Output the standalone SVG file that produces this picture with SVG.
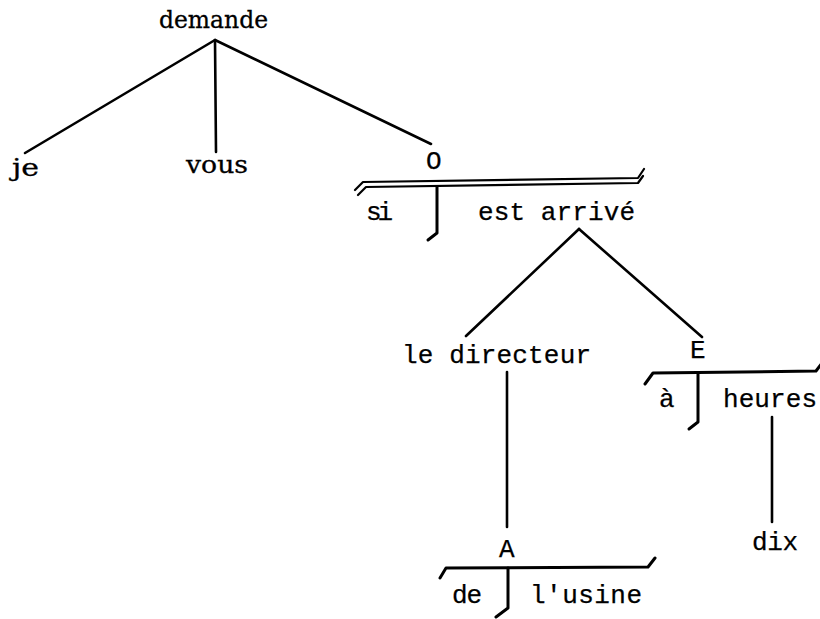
<svg xmlns="http://www.w3.org/2000/svg" width="820" height="619" viewBox="0 0 820 619">
<style>
.t{font-family:"DejaVu Serif","Liberation Serif",serif;font-size:24px;fill:#000;stroke:#000;stroke-width:0.3}
.m{font-family:"Liberation Mono","DejaVu Sans Mono",monospace;font-size:26px;fill:#000;stroke:#000;stroke-width:0.25}
.c{stroke:#000;stroke-width:2.6;fill:none;stroke-linecap:round;stroke-linejoin:round}
.b{stroke:#000;stroke-width:3;fill:none;stroke-linecap:round;stroke-linejoin:round}
.b2{stroke:#000;stroke-width:2.2;fill:none;stroke-linecap:round;stroke-linejoin:round}
</style>
<rect width="820" height="619" fill="#fff"/>
<g id="connectors">
<line class="c" x1="215" y1="40" x2="25" y2="153"/>
<line class="c" x1="215" y1="40" x2="216" y2="152"/>
<line class="c" x1="215" y1="40" x2="431" y2="144"/>
<line class="c" x1="579" y1="229" x2="466" y2="336"/>
<line class="c" x1="579" y1="229" x2="702" y2="337"/>
<line class="c" x1="507" y1="372" x2="507" y2="527"/>
<line class="c" x1="772" y1="417" x2="772" y2="522"/>
</g>
<g id="n-demande"><text class="t" x="159" y="28" textLength="109" lengthAdjust="spacingAndGlyphs">demande</text></g>
<g id="n-je"><text class="t" x="12" y="176" textLength="27" lengthAdjust="spacingAndGlyphs">je</text></g>
<g id="n-vous"><text class="t" x="186" y="173" textLength="62" lengthAdjust="spacingAndGlyphs">vous</text></g>
<g id="n-O">
<text class="m" x="426" y="169">O</text>
<path class="b2" d="M355,190 L363,182 L638,178 L644,169"/>
<path class="b2" d="M358,195 L366,187 L638,183 L643,176"/>
<path class="b" d="M437,187 L437,233 L428,240"/>
<text class="m" x="366" y="220" textLength="27" lengthAdjust="spacing">si</text>
<text class="m" x="478" y="220" textLength="157" lengthAdjust="spacing">est arrivé</text>
</g>
<g id="n-directeur"><text class="m" x="402" y="363" textLength="189" lengthAdjust="spacing">le directeur</text></g>
<g id="n-E">
<text class="m" x="690" y="358">E</text>
<path class="b" d="M645,384 L653,373 L816,371 L822,363"/>
<path class="b" d="M698,373 L698,422 L689,429"/>
<text class="m" x="659" y="407" textLength="14" lengthAdjust="spacing">à</text>
<text class="m" x="723" y="407" textLength="94" lengthAdjust="spacing">heures</text>
</g>
<g id="n-dix"><text class="m" x="752" y="550" textLength="46" lengthAdjust="spacing">dix</text></g>
<g id="n-A">
<text class="m" x="499" y="557">A</text>
<path class="b" d="M440,578 L446,568 L648,567 L655,558"/>
<path class="b" d="M508,568 L508,608 L496,617"/>
<text class="m" x="452" y="603" textLength="30" lengthAdjust="spacing">de</text>
<text class="m" x="530" y="603" textLength="112" lengthAdjust="spacing">l'usine</text>
</g>
</svg>
